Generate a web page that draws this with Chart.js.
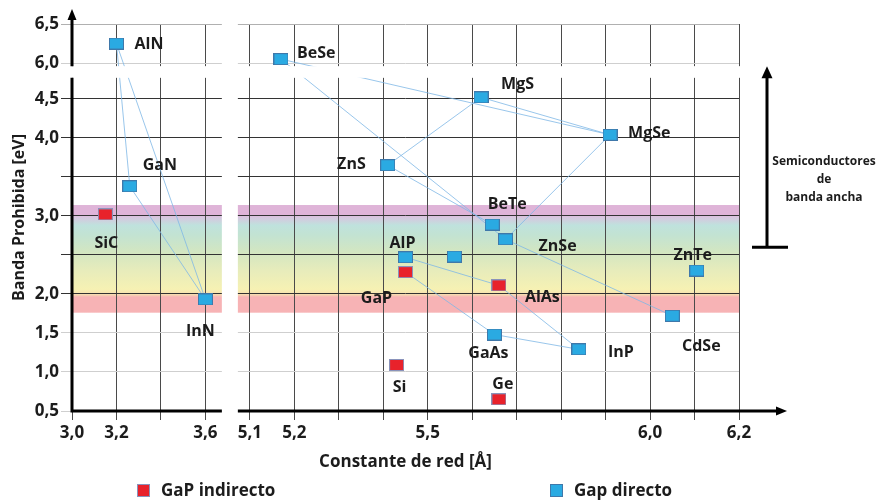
<!DOCTYPE html>
<html>
<head>
<meta charset="utf-8">
<title>Banda prohibida vs constante de red</title>
<script src="https://cdn.jsdelivr.net/npm/chart.js@4.4.1/dist/chart.umd.min.js"></script>
<style>
  html, body { margin: 0; padding: 0; background: #fff; }
  #wrap { width: 884px; height: 502px; }
</style>
</head>
<body>
<div id="wrap"><canvas id="chart" width="884" height="502"></canvas></div>
<script>
// ---- data -------------------------------------------------------------
const materials    = ['AlN', 'GaN', 'SiC', 'InN', 'BeSe', 'MgS', 'MgSe', 'ZnS', 'BeTe', 'ZnSe',
                      'AlP', '', 'GaP', 'AlAs', 'GaAs', 'Si', 'Ge', 'InP', 'CdSe', 'ZnTe'];
const latticeConst = [3.20, 3.26, 3.15, 3.60, 5.17, 5.62, 5.91, 5.41, 5.645, 5.675,
                      5.45, 5.56, 5.45, 5.66, 5.65, 5.43, 5.66, 5.84, 6.05, 6.105];
const bandGap      = [6.25, 3.38, 3.02, 1.93, 6.05, 4.52, 4.04, 3.65, 2.89, 2.70,
                      2.47, 2.48, 2.28, 2.11, 1.48, 1.09, 0.65, 1.29, 1.72, 2.30];
const indirectGap  = [false, false, true, false, false, false, false, false, false, false,
                      false, false, true, true, false, true, true, false, false, false];

// ternary alloy lines between binary compounds
const alloyLinks = [
  ['AlN', 'GaN'], ['AlN', 'InN'], ['GaN', 'InN'],
  ['BeSe', 'MgSe'], ['MgS', 'MgSe'], ['ZnS', 'MgS'], ['BeSe', 'ZnSe'], ['ZnS', 'BeTe'],
  ['MgSe', 'ZnSe'], ['ZnSe', 'CdSe'], ['AlP', 'AlAs'], ['GaP', 'GaAs'], ['GaAs', 'InP'], ['AlAs', 'InP']
];

const xTickValues = [3.0, 3.2, 3.4, 3.6, 5.1, 5.2, 5.3, 5.4, 5.5, 5.6, 5.7, 5.8, 5.9, 6.0, 6.1, 6.2];
const xTickLabels = ['3,0', '3,2', '', '3,6', '5,1', '5,2', '', '', '5,5', '', '', '', '', '6,0', '', '6,2'];
const yTickValues = [0.5, 1.0, 1.5, 2.0, 2.5, 3.0, 3.5, 4.0, 4.5, 6.0, 6.5];
const yTickLabels = ['0,5', '1,0', '1,5', '2,0', '', '3,0', '', '4,0', '4,5', '6,0', '6,5'];

const seriesNames = ['GaP indirecto', 'Gap directo'];
const wideGapText = ['Semiconductores', 'de', 'banda ancha'];

// ---- broken axes ------------------------------------------------------
// Nitride panel (3.0–3.7 Å) is drawn at half scale left of the 5.1–6.2 Å panel;
// the 6.0–6.5 eV strip is stacked directly above the 4.5 eV region.
const X_LEFT0 = 4.70, X_SPLIT = 4.5;
const foldX = a => (a < X_SPLIT ? X_LEFT0 + (a - 3.0) * 0.5 : a);
const Y_SHIFT = 1.04, Y_SPLIT = 5.0;
const foldY = e => (e > Y_SPLIT ? e - Y_SHIFT : e);
const X_GAP = [foldX(3.674), 5.073];     // white gap between the two panels
const Y_GAP = [4.77, foldY(5.96)];       // white gap between 4.5 and 6.0 eV

const FONT = '"Open Sans", Lato, sans-serif';
const INK = '#1c1c1c';
const RED = '#e8222b', RED_EDGE = '#8a93bb';
const BLUE = '#2aaae2', BLUE_EDGE = '#3f78aa';

// ---- markers ----------------------------------------------------------
function boxMarker(fill, edge) {
  const c = document.createElement('canvas');
  c.width = 15; c.height = 12;
  const g = c.getContext('2d');
  g.fillStyle = fill;
  g.fillRect(0, 0, 15, 12);
  g.strokeStyle = edge;
  g.lineWidth = 1;
  g.strokeRect(0.5, 0.5, 14, 11);
  return c;
}
const redBox = boxMarker(RED, RED_EDGE);
const blueBox = boxMarker(BLUE, BLUE_EDGE);

const pointOf = i => ({ x: foldX(latticeConst[i]), y: foldY(bandGap[i]), name: materials[i] });
const idx = name => materials.indexOf(name);

const indirectPts = [], directPts = [];
materials.forEach((m, i) => (indirectGap[i] ? indirectPts : directPts).push(pointOf(i)));

const linkSets = alloyLinks.map(([a, b]) => ({
  data: [pointOf(idx(a)), pointOf(idx(b))],
  showLine: true,
  borderColor: 'rgba(128,184,230,0.8)',
  borderWidth: 1,
  pointRadius: 0,
  pointHoverRadius: 0,
  order: 2,
  isLink: true
}));

// label placement relative to each marker: [dx, dy, textAlign]
const labelPlacement = {
  AlN: [18, 1, 'left'], GaN: [30, -21, 'center'], SiC: [1, 29, 'center'], InN: [-5, 32, 'center'],
  BeSe: [16, -6, 'left'], MgS: [20, -13, 'left'], MgSe: [18, -1, 'left'], ZnS: [-22, -1, 'right'],
  BeTe: [15, -20, 'center'], ZnSe: [33, 7, 'left'], AlP: [-3, -14, 'center'], GaP: [-29, 26, 'center'],
  AlAs: [26, 12, 'left'], GaAs: [-6, 19, 'center'], Si: [3, 22, 'center'], Ge: [4, -15, 'center'],
  InP: [29, 3, 'left'], CdSe: [29, 31, 'center'], ZnTe: [-4, -15, 'center']
};

// colour bands for the visible spectrum (eV)
const BAND_TOP = 3.14, BAND_BOTTOM = 1.76;
const bandStops = [
  [3.14, '#dfb4d8'], [3.01, '#dfb4d8'], [2.99, '#d9c4df'], [2.88, '#bfe2dd'], [2.75, '#c3e3d2'],
  [2.55, '#d2e6c2'], [2.30, '#e7ecbb'], [2.06, '#f6f1b3'], [2.0, '#f7e2b0'], [1.96, '#f7b3b5'], [1.76, '#f7b3b5']
];

// ---- drawing helpers --------------------------------------------------
function arrowHead(ctx, x, y, dir, len, half) {
  ctx.beginPath();
  if (dir === 'up') { ctx.moveTo(x, y); ctx.lineTo(x - half, y + len); ctx.lineTo(x + half, y + len); }
  else { ctx.moveTo(x, y); ctx.lineTo(x - len, y - half); ctx.lineTo(x - len, y + half); }
  ctx.closePath();
  ctx.fill();
}

const panelsPlugin = {
  id: 'panels',
  beforeDraw(chart) {
    const { ctx, chartArea: ca, scales: { y } } = chart;
    const top = y.getPixelForValue(BAND_TOP), bot = y.getPixelForValue(BAND_BOTTOM);
    const grad = ctx.createLinearGradient(0, top, 0, bot);
    bandStops.forEach(([e, col]) => grad.addColorStop((BAND_TOP - e) / (BAND_TOP - BAND_BOTTOM), col));
    ctx.save();
    ctx.fillStyle = grad;
    ctx.fillRect(ca.left, top, ca.right - ca.left, bot - top);
    ctx.restore();
  },
  afterDatasetsDraw(chart) {
    const { ctx, chartArea: ca, scales: { x, y } } = chart;
    ctx.save();
    // white gaps of the broken axes
    ctx.fillStyle = '#fff';
    const gx0 = x.getPixelForValue(X_GAP[0]), gx1 = x.getPixelForValue(X_GAP[1]);
    ctx.fillRect(gx0, 0, gx1 - gx0, ca.bottom + 14);
    const gy0 = y.getPixelForValue(Y_GAP[1]), gy1 = y.getPixelForValue(Y_GAP[0]);
    ctx.fillRect(ca.left - 14, gy0, ca.right - ca.left + 34, gy1 - gy0);

    // axis lines with arrows
    ctx.strokeStyle = '#000';
    ctx.fillStyle = '#000';
    ctx.lineWidth = 3;
    const ax = x.getPixelForValue(foldX(3.0));
    const ay = y.getPixelForValue(0.5);
    ctx.beginPath();
    ctx.moveTo(ax, ay + 1.5); ctx.lineTo(ax, gy1);
    ctx.moveTo(ax, gy0); ctx.lineTo(ax, ca.top - 8);
    ctx.moveTo(ax - 1.5, ay); ctx.lineTo(gx0, ay);
    ctx.moveTo(gx1, ay); ctx.lineTo(ca.right + 40, ay);
    ctx.stroke();
    arrowHead(ctx, ax, ca.top - 15, 'up', 11, 4.5);
    arrowHead(ctx, ca.right + 48, ay, 'right', 11, 4.5);

    // wide band-gap bracket
    const bx = ca.right + 28;
    const bBot = y.getPixelForValue(2.6), bTop = y.getPixelForValue(4.92);
    ctx.beginPath();
    ctx.moveTo(bx, bBot); ctx.lineTo(bx, bTop + 10);
    ctx.moveTo(bx - 15, bBot); ctx.lineTo(bx + 21, bBot);
    ctx.stroke();
    arrowHead(ctx, bx, bTop, 'up', 12, 5.5);
    ctx.font = 'bold 12px ' + FONT;
    ctx.fillStyle = INK;
    ctx.textAlign = 'center';
    ctx.textBaseline = 'middle';
    wideGapText.forEach((t, i) => ctx.fillText(t, ca.right + 85, 162 + i * 18));

    // compound labels
    ctx.font = 'bold 16px ' + FONT;
    chart.data.datasets.forEach((ds, di) => {
      if (ds.isLink) return;
      const meta = chart.getDatasetMeta(di);
      meta.data.forEach((el, k) => {
        const name = ds.data[k].name;
        const p = labelPlacement[name];
        if (!name || !p) return;
        ctx.textAlign = p[2];
        ctx.fillText(name, el.x + p[0], el.y + p[1]);
      });
    });

    // legend
    ctx.font = 'bold 17px ' + FONT;
    ctx.textAlign = 'left';
    const legendRow = [[RED, RED_EDGE, seriesNames[0], 137], [BLUE, BLUE_EDGE, seriesNames[1], 550]];
    legendRow.forEach(([fill, edge, label, lx]) => {
      ctx.fillStyle = fill;
      ctx.fillRect(lx, 484, 13, 13);
      ctx.strokeStyle = edge;
      ctx.lineWidth = 1;
      ctx.strokeRect(lx + 0.5, 484.5, 12, 12);
      ctx.fillStyle = INK;
      ctx.fillText(label, lx + 24, 491);
    });
    ctx.restore();
  }
};

// ---- grid colours -----------------------------------------------------
function yGridColor(ctx) {
  const v = ctx.tick ? ctx.tick.value : 0;
  if (v >= 1.9 && v <= 4.6) return '#333';
  if (v > 5.3) return '#b0b0b0';
  return '#cfcfcf';
}

new Chart(document.getElementById('chart'), {
  type: 'scatter',
  data: {
    datasets: [
      ...linkSets,
      { label: seriesNames[0], data: indirectPts, pointStyle: redBox, radius: 8, order: 1 },
      { label: seriesNames[1], data: directPts, pointStyle: blueBox, radius: 8, order: 1 }
    ]
  },
  options: {
    responsive: false,
    animation: false,
    devicePixelRatio: 1,
    layout: { padding: { top: 24, right: 145, left: 0, bottom: 0 } },
    plugins: { legend: { display: false }, tooltip: { enabled: false } },
    events: [],
    scales: {
      x: {
        type: 'linear',
        bounds: 'data',
        min: foldX(3.0),
        max: 6.2,
        afterBuildTicks: s => { s.ticks = xTickValues.map(v => ({ value: foldX(v) })); },
        afterFit: s => { s.height = 91; },
        ticks: {
          autoSkip: false, maxRotation: 0, padding: 3,
          color: INK, font: { family: FONT, size: 17, weight: 'bold' },
          callback: (v, i) => xTickLabels[i]
        },
        grid: { color: '#4a4a4a', lineWidth: 1, tickLength: 9 },
        border: { display: false },
        title: {
          display: true, text: 'Constante de red [Å]', color: INK,
          font: { family: FONT, size: 17, weight: 'bold' }, padding: { top: 0, bottom: 30 }
        }
      },
      y: {
        type: 'linear',
        bounds: 'data',
        min: 0.5,
        max: foldY(6.5),
        afterBuildTicks: s => { s.ticks = yTickValues.map(v => ({ value: foldY(v) })); },
        afterFit: s => { s.width = 72; },
        ticks: {
          autoSkip: false, padding: 2,
          color: INK, font: { family: FONT, size: 17, weight: 'bold' },
          callback: (v, i) => yTickLabels[i]
        },
        grid: { color: yGridColor, lineWidth: 1, tickLength: 11 },
        border: { display: false },
        title: {
          display: true, text: 'Banda Prohibida [eV]', color: INK,
          font: { family: FONT, size: 16, weight: 'bold' }, padding: { top: 10, bottom: 0 }
        }
      }
    }
  },
  plugins: [panelsPlugin]
});
</script>
</body>
</html>
